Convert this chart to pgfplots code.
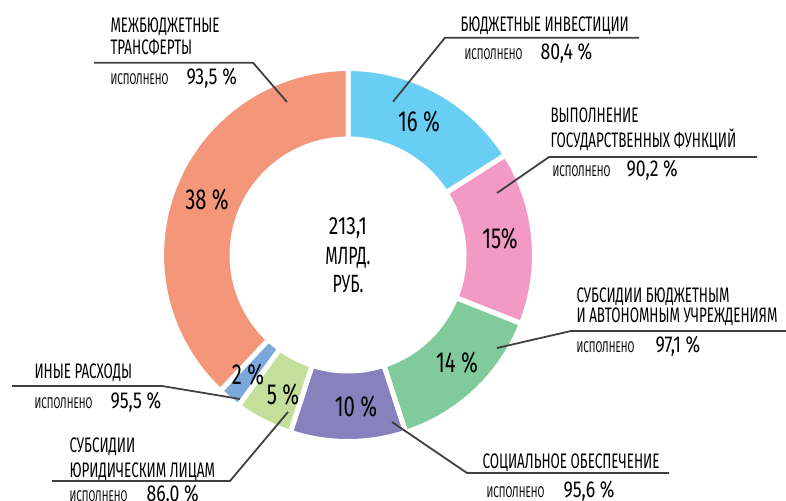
\documentclass[border=0pt]{standalone}
\usepackage{pgfplots}
\pgfplotsset{compat=1.18}
\usepackage{fontspec}
\setmainfont{Fira Sans}[FakeStretch=0.64]
\IfFontExistsTF{FiraSans-Light.otf}
  {\newfontfamily\lightf{FiraSans-Light.otf}[FakeStretch=0.7]
   \newfontfamily\digf{FiraSans-Light.otf}[FakeStretch=0.77]}
  {\newfontfamily\lightf{Fira Sans}[FakeStretch=0.7]
   \newfontfamily\digf{Fira Sans}[FakeStretch=0.77]}

\definecolor{txt}{HTML}{404040}
\definecolor{cInv}{HTML}{68CEF4}
\definecolor{cGos}{HTML}{F29AC4}
\definecolor{cSub}{HTML}{80CA9B}
\definecolor{cSoc}{HTML}{8782BE}
\definecolor{cJur}{HTML}{C4DF9C}
\definecolor{cOth}{HTML}{7AA8DC}
\definecolor{cTrf}{HTML}{F4967A}

\newcommand{\lab}{\fontsize{21}{24}\selectfont}
\newcommand{\isp}{\fontsize{15.5}{18}\selectfont}
\newcommand{\numf}{\digf\fontsize{23}{24}\selectfont}
\newcommand{\pcf}{\lightf\fontsize{29}{30}\selectfont}
\newcommand{\ctrf}{\fontsize{25}{29}\selectfont}

% ring segment: start share, end share (percent, clockwise from top), colour
\newcommand{\seg}[3]{%
  \addplot[fill=#3, draw=white, line width=5pt, samples at={0,...,101}, variable=\t]
  ({348 + (\t<=50 ? 186.5 : 116)*cos(90-3.6*(#1 + (#2-#1)*(\t<=50 ? \t/50 : (101-\t)/50)))},
   {245 + (\t<=50 ? 186.5 : 116)*sin(90-3.6*(#1 + (#2-#1)*(\t<=50 ? \t/50 : (101-\t)/50)))}) -- cycle;
}
\newcommand{\lead}[1]{\addplot[draw=txt, line width=1.8pt, no marks] coordinates {#1};}

\begin{document}
\begin{tikzpicture}
\begin{axis}[
    hide axis, scale only axis,
    width=786pt, height=500pt,
    xmin=0, xmax=786, ymin=0, ymax=500,
    clip=false,
    every node/.style={inner sep=0pt, text=txt},
]
% shares: 16, 15, 14, 10, 5, 2, 38
\seg{0}{16}{cInv}
\seg{16}{31}{cGos}
\seg{31}{45}{cSub}
\seg{45}{55}{cSoc}
\seg{55}{60}{cJur}
\seg{60}{62}{cOth}
\seg{62}{100}{cTrf}

% percentages in the ring
\node[anchor=base, font=\pcf] at (axis cs:419,368) {16 \%};
\node[anchor=base, font=\pcf] at (axis cs:500,251) {15\%};
\node[anchor=base, font=\pcf] at (axis cs:457,127) {14 \%};
\node[anchor=base, font=\pcf] at (axis cs:356,83) {10 \%};
\node[anchor=base, font=\pcf] at (axis cs:283,95) {5 \%};
\node[anchor=base, font=\pcf] at (axis cs:248,115) {2 \%};
\node[anchor=base, font=\pcf] at (axis cs:207,290) {38 \%};

% centre
\node[anchor=base, font=\ctrf] at (axis cs:348,265) {\digf 213,1};
\node[anchor=base, font=\ctrf] at (axis cs:348,235) {МЛРД.};
\node[anchor=base, font=\ctrf] at (axis cs:348,207) {РУБ.};

% leader lines
\lead{(287,398) (253,437.3) (94,437.3)}
\lead{(393,398.3) (445,462.3) (639,462.3)}
\lead{(497,307) (549,343) (757,343)}
\lead{(497,152) (571,169) (786,169)}
\lead{(240,101) (162,114) (12,114)}
\lead{(288,88) (230,19) (52,19)}
\lead{(392,78) (467,27) (669,27)}

% labels
\node[anchor=base west, font=\lab] at (axis cs:107,467) {МЕЖБЮДЖЕТНЫЕ};
\node[anchor=base west, font=\lab] at (axis cs:107,445) {ТРАНСФЕРТЫ};
\node[anchor=base west, font=\isp] at (axis cs:107,415) {ИСПОЛНЕНО};
\node[anchor=base west, font=\numf] at (axis cs:183,415) {93,5 \%};

\node[anchor=base west, font=\lab] at (axis cs:457,468) {БЮДЖЕТНЫЕ ИНВЕСТИЦИИ};
\node[anchor=base west, font=\isp] at (axis cs:461,440) {ИСПОЛНЕНО};
\node[anchor=base west, font=\numf] at (axis cs:537,440) {80,4 \%};

\node[anchor=base west, font=\lab] at (axis cs:547,377) {ВЫПОЛНЕНИЕ};
\node[anchor=base west, font=\lab] at (axis cs:547,352) {ГОСУДАРСТВЕННЫХ ФУНКЦИЙ};
\node[anchor=base west, font=\isp] at (axis cs:549,323) {ИСПОЛНЕНО};
\node[anchor=base west, font=\numf] at (axis cs:623,323) {90,2 \%};

\node[anchor=base west, font=\lab] at (axis cs:573,197) {СУБСИДИИ БЮДЖЕТНЫМ};
\node[anchor=base west, font=\lab] at (axis cs:573,177) {И АВТОНОМНЫМ УЧРЕЖДЕНИЯМ};
\node[anchor=base west, font=\isp] at (axis cs:573,147) {ИСПОЛНЕНО};
\node[anchor=base west, font=\numf] at (axis cs:652,147) {97,1 \%};

\node[anchor=base west, font=\lab] at (axis cs:31,121) {ИНЫЕ РАСХОДЫ};
\node[anchor=base west, font=\isp] at (axis cs:31,91) {ИСПОЛНЕНО};
\node[anchor=base west, font=\numf] at (axis cs:107,91) {95,5 \%};

\node[anchor=base west, font=\lab] at (axis cs:66,48) {СУБСИДИИ};
\node[anchor=base west, font=\lab] at (axis cs:66,23) {ЮРИДИЧЕСКИМ ЛИЦАМ};
\node[anchor=base west, font=\isp] at (axis cs:66,-1) {ИСПОЛНЕНО};
\node[anchor=base west, font=\numf] at (axis cs:143,-1) {86,0 \%};

\node[anchor=base west, font=\lab] at (axis cs:479,32) {СОЦИАЛЬНОЕ ОБЕСПЕЧЕНИЕ};
\node[anchor=base west, font=\isp] at (axis cs:483,3) {ИСПОЛНЕНО};
\node[anchor=base west, font=\numf] at (axis cs:560,3) {95,6 \%};

\coordinate (ll) at (rel axis cs:0,0);
\coordinate (ur) at (rel axis cs:1,1);
\end{axis}
\pgfresetboundingbox
\useasboundingbox (ll) rectangle (ur);
\end{tikzpicture}
\end{document}
